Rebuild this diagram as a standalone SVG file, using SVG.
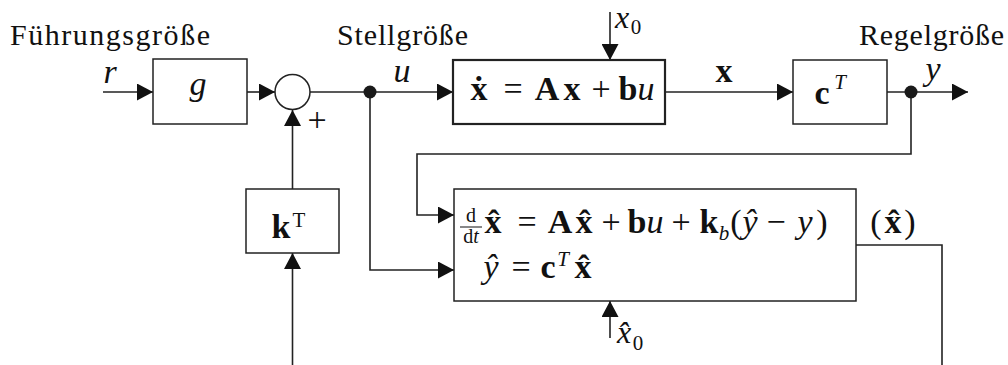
<svg xmlns="http://www.w3.org/2000/svg" width="1008" height="365" viewBox="0 0 1008 365">
<defs>
<style>
.box{fill:#fff;stroke:#222;stroke-width:1.5}
.thick{stroke-width:2.2}
.ln{fill:none;stroke:#222;stroke-width:1.6}
text{fill:#111}
.t{font-size:30px}
.m{font-size:34px;text-anchor:middle}
.i{font-style:italic}
.b{font-weight:bold}
.s{font-size:21px}
.f{font-size:20px}
.dot{fill:#1a1a1a}
</style>
<marker id="arr" viewBox="0 0 16 17" refX="16" refY="8.5" markerWidth="16" markerHeight="17" markerUnits="userSpaceOnUse" orient="auto">
<path d="M0,0 L16,8.5 L0,17 z" fill="#111"/>
</marker>
</defs>
<rect width="1008" height="365" fill="#fff"/>

<g id="connectors">
<path class="ln" d="M103,92 H153" marker-end="url(#arr)"/>
<path class="ln" d="M247,92 H275" marker-end="url(#arr)"/>
<path class="ln" d="M310,92 H453" marker-end="url(#arr)"/>
<path class="ln" d="M665,92 H793" marker-end="url(#arr)"/>
<path class="ln" d="M887,92 H968" marker-end="url(#arr)"/>
<path class="ln" d="M911,92 V154 H417 V215 H454" marker-end="url(#arr)"/>
<path class="ln" d="M370,92 V270 H454" marker-end="url(#arr)"/>
<path class="ln" d="M610,12 V60" marker-end="url(#arr)"/>
<path class="ln" d="M610,338 V301" marker-end="url(#arr)"/>
<path class="ln" d="M856,245 H942 V365"/>
<path class="ln" d="M292.5,365 V253" marker-end="url(#arr)"/>
<path class="ln" d="M292.5,189 V110" marker-end="url(#arr)"/>
<circle class="dot" cx="370" cy="92" r="6.5"/>
<circle class="dot" cx="911" cy="92" r="6.5"/>
</g>

<g font-family="Liberation Serif, Times New Roman, DejaVu Serif, serif">
<g id="labels">
<text class="t" x="10" y="45" textLength="200" lengthAdjust="spacing">Führungsgröße</text>
<text class="t" x="337" y="45" textLength="131" lengthAdjust="spacing">Stellgröße</text>
<text class="t" x="859" y="45" textLength="145" lengthAdjust="spacing">Regelgröße</text>
<text class="m i" x="110" y="83">r</text>
<text class="m i" x="402" y="82">u</text>
<text class="m b" x="724" y="82">x</text>
<text class="m i" x="933" y="80">y</text>
<text class="m" x="317" y="131" style="font-size:34px">+</text>
<text class="m i" x="622" y="28" style="font-size:32px">x</text>
<text class="m s" x="636" y="34">0</text>
<text class="m i" x="624" y="343" style="font-size:32px">x̂</text>
<text class="m s" x="638" y="350">0</text>
<text class="m" x="876" y="233">(</text>
<text class="m b" x="893" y="233">x̂</text>
<text class="m" x="910" y="233">)</text>
</g>

<g id="node-g">
<rect class="box" x="153" y="59" width="94" height="65"/>
<text class="m i" x="198" y="95">g</text>
</g>

<g id="node-sum">
<circle class="box" cx="292.5" cy="92" r="17.5"/>
</g>

<g id="node-plant">
<rect class="box thick" x="453" y="60" width="212" height="64"/>
<text class="m" y="100"><tspan class="b" x="479">ẋ</tspan><tspan x="513">=</tspan><tspan class="b" x="547">A</tspan><tspan class="b" x="572">x</tspan><tspan x="601">+</tspan><tspan class="b" x="628">b</tspan><tspan class="i" x="646">u</tspan></text>
</g>

<g id="node-cT">
<rect class="box" x="793" y="60" width="94" height="64"/>
<text class="m b" x="822" y="104">c</text>
<text class="m i s" x="840" y="89">T</text>
</g>

<g id="node-kT">
<rect class="box" x="246" y="189" width="93" height="64"/>
<text class="m b" x="281" y="238">k</text>
<text class="m s" x="299" y="227">T</text>
</g>

<g id="node-observer">
<rect class="box" x="454" y="189" width="402" height="112"/>
<text class="m f" x="471" y="222">d</text>
<line x1="460" y1="227" x2="482" y2="227" stroke="#111" stroke-width="1"/>
<text class="m f" x="471" y="243">d<tspan class="i">t</tspan></text>
<text class="m" y="233"><tspan class="b" x="493">x̂</tspan><tspan x="527">=</tspan><tspan class="b" x="560">A</tspan><tspan class="b" x="584">x̂</tspan><tspan x="611">+</tspan><tspan class="b" x="637">b</tspan><tspan class="i" x="655">u</tspan><tspan x="681">+</tspan><tspan class="b" x="709">k</tspan></text>
<text class="m i s" x="724" y="240">b</text>
<text class="m" y="233"><tspan x="736">(</tspan><tspan class="i" x="750">ŷ</tspan><tspan x="776">−</tspan><tspan class="i" x="805">y</tspan><tspan x="822">)</tspan></text>
<text class="m" y="278"><tspan class="i" x="491">ŷ</tspan><tspan x="521">=</tspan><tspan class="b" x="548">c</tspan></text>
<text class="m i s" x="563" y="266">T</text>
<text class="m b" x="583" y="278">x̂</text>
</g>
</g>
</svg>
